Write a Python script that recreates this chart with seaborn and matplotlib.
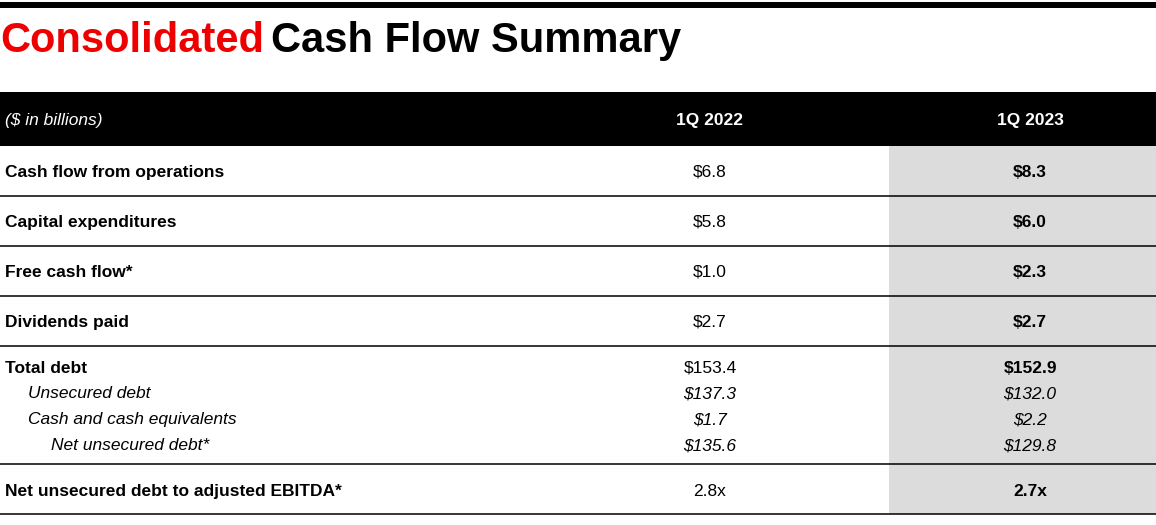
import numpy as np
import pandas as pd
import matplotlib.pyplot as plt
import seaborn as sns

# Data
title_red = "Consolidated"
title_black = "Cash Flow Summary"
unit_label = "($ in billions)"
periods = ["1Q 2022", "1Q 2023"]

row_labels = ["Cash flow from operations", "Capital expenditures", "Free cash flow*",
              "Dividends paid", "Total debt", "Unsecured debt",
              "Cash and cash equivalents", "Net unsecured debt*",
              "Net unsecured debt to adjusted EBITDA*"]
q1_2022 = ["$6.8", "$5.8", "$1.0", "$2.7", "$153.4", "$137.3", "$1.7", "$135.6", "2.8x"]
q1_2023 = ["$8.3", "$6.0", "$2.3", "$2.7", "$152.9", "$132.0", "$2.2", "$129.8", "2.7x"]
indent = [0, 0, 0, 0, 0, 1, 1, 2, 0]

tbl = pd.DataFrame({"label": row_labels, "q22": q1_2022, "q23": q1_2023, "indent": indent})

# Layout (pixel coords)
row_y = [171, 221, 271, 321, 367, 392, 418, 444, 490]
rule_y = [196, 246, 296, 346, 464, 514]
col_x = [710, 1030]

sns.set_style("white")
plt.rcParams["font.family"] = ["Liberation Sans", "DejaVu Sans"]

fig = plt.figure(figsize=(11.56, 5.25), dpi=100)
ax = fig.add_axes([0, 0, 1, 1])
ax.set_xlim(0, 1156)
ax.set_ylim(525, 0)
ax.axis("off")

# top rule
ax.axhspan(2, 8, color="black", lw=0)

# title
t1 = ax.text(0, 52, title_red, color="#ee0000", fontsize=30, fontweight="bold",
             va="baseline", ha="left")
fig.canvas.draw()
bb = t1.get_window_extent().transformed(ax.transData.inverted())
ax.text(bb.x1 + 7, 52, title_black, color="black", fontsize=30, fontweight="bold",
        va="baseline", ha="left")

# header band
ax.axhspan(92, 146, color="black", lw=0)
ax.text(5, 119, unit_label, color="white", fontsize=12.5, style="italic", va="center_baseline")
for x, p in zip(col_x, periods):
    ax.text(x, 119, p, color="white", fontsize=12.5, fontweight="bold",
            va="center_baseline", ha="center")

# shaded current column
ax.fill_between([889, 1156], 146, 514, color="#dcdcdc", lw=0)

for y in rule_y:
    ax.plot([0, 1156], [y, y], color="black", lw=1.1)

for (_, r), y in zip(tbl.iterrows(), row_y):
    sub = r["indent"] > 0
    ax.text(5 + 23 * r["indent"], y, r["label"], fontsize=12.5,
            fontweight="normal" if sub else "bold", style="italic" if sub else "normal",
            va="center_baseline", ha="left", color="black")
    ax.text(col_x[0], y, r["q22"], fontsize=12.5, style="italic" if sub else "normal",
            va="center_baseline", ha="center", color="black")
    ax.text(col_x[1], y, r["q23"], fontsize=12.5, style="italic" if sub else "normal",
            fontweight="normal" if sub else "bold", va="center_baseline", ha="center",
            color="black")

fig.savefig("out.png", dpi=100)
